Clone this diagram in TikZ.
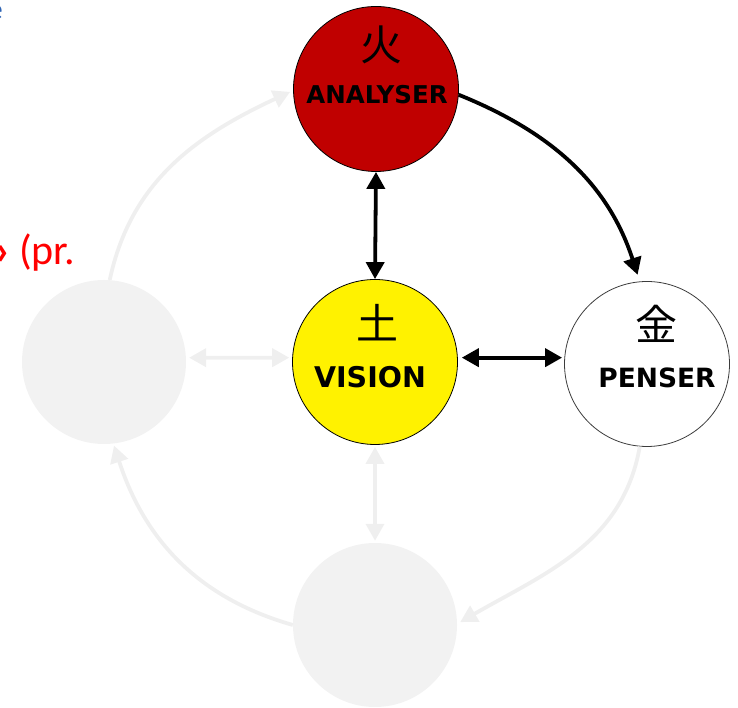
\documentclass[tikz,border=0pt]{standalone}
\usepackage{fontspec}
\usetikzlibrary{arrows.meta}
\newfontfamily\lblfont{DejaVu Sans Bold}
\newfontfamily\cjkfont{Noto Sans CJK JP}
\newfontfamily\calfont{Carlito}
\definecolor{firered}{HTML}{C00000}
\definecolor{earthyellow}{HTML}{FFF200}
\definecolor{ghost}{HTML}{F2F2F2}
\definecolor{ghostline}{HTML}{EFEFEF}
\definecolor{titleblue}{RGB}{46,100,180}
\definecolor{notered}{HTML}{FF0000}
\tikzset{
  elem/.style={circle, minimum size=165pt, inner sep=0pt, draw=black, line width=0.8pt},
  ghostelem/.style={circle, minimum size=164pt, inner sep=0pt, fill=ghost, draw=none},
  blackline/.style={draw=black, line width=3.8pt},
  ghostline/.style={draw=ghostline, line width=3.8pt},
  onehead/.style={arrows={-Triangle[length=17pt 0,width=18pt 0]}},
  twohead/.style={arrows={Triangle[length=17pt 0,width=18pt 0]-Triangle[length=17pt 0,width=18pt 0]}},
  elemlabel/.style={inner sep=0pt, text=black},
  kanji/.style={font=\cjkfont\fontsize{42}{44}\selectfont, inner sep=0pt, text=black}
}
\begin{document}
\begin{tikzpicture}[x=1pt,y=1pt]
\useasboundingbox (0,0) rectangle (738,708);
% faded elements
\node[ghostelem] (lf) at (104,346) {};
\node[ghostelem] (bo) at (375,83) {};
% main elements
\node[elem, fill=firered] (an) at (376,619) {};
\node[elem, fill=earthyellow] (vi) at (375,346) {};
\node[elem, fill=white, draw={rgb,255:red,60;green,60;blue,60}] (pe) at (647,344) {};
% labels
\node[kanji] (anK) at (381,663) {火};
\node[elemlabel, font=\lblfont\fontsize{24.5}{28}\selectfont] (anT) at (377,613) {ANALYSER};
\node[kanji] (viK) at (377,385) {土};
\node[elemlabel, font=\lblfont\fontsize{28.5}{32}\selectfont] (viT) at (370,330.5) {VISION};
\node[kanji] (peK) at (656,384) {金};
\node[elemlabel, font=\lblfont\fontsize{26.5}{30}\selectfont] (peT) at (657,330) {PENSER};
% faded connectors
\draw[ghostline,onehead] (lf.86) to[out=78,in=205] ([xshift=-3pt]an.182);
\draw[ghostline,onehead] (bo.180) to[out=164,in=-72] ([yshift=-2pt]lf.-83);
\draw[ghostline,onehead] (pe.-95) to[out=-100,in=30] ([xshift=3pt]bo.2);
\draw[ghostline,twohead, shorten <=2pt, shorten >=2pt] (vi.south) -- (bo.north);
\draw[ghostline,twohead, shorten <=3pt, shorten >=3pt] (lf.3) -- (vi.177);
% main connectors
\draw[blackline,twohead] (an.south) -- (vi.north);
\draw[blackline,twohead, shorten <=4pt, shorten >=2pt] (vi.3) -- (vi.3 -| pe.west);
\draw[blackline,onehead, shorten >=7pt] (an.-4) to[out=-22,in=108] (pe.95);
% cut-off text fragments
\node[anchor=base west, inner sep=0pt, text=notered, font=\calfont\fontsize{42}{48}\selectfont] (note) at (-5,443) {\textbf{›} (pr.};
\node[anchor=base east, inner sep=0pt, text=titleblue, font=\calfont\fontsize{30}{34}\selectfont] (title) at (3,688) {e};
\end{tikzpicture}
\end{document}
